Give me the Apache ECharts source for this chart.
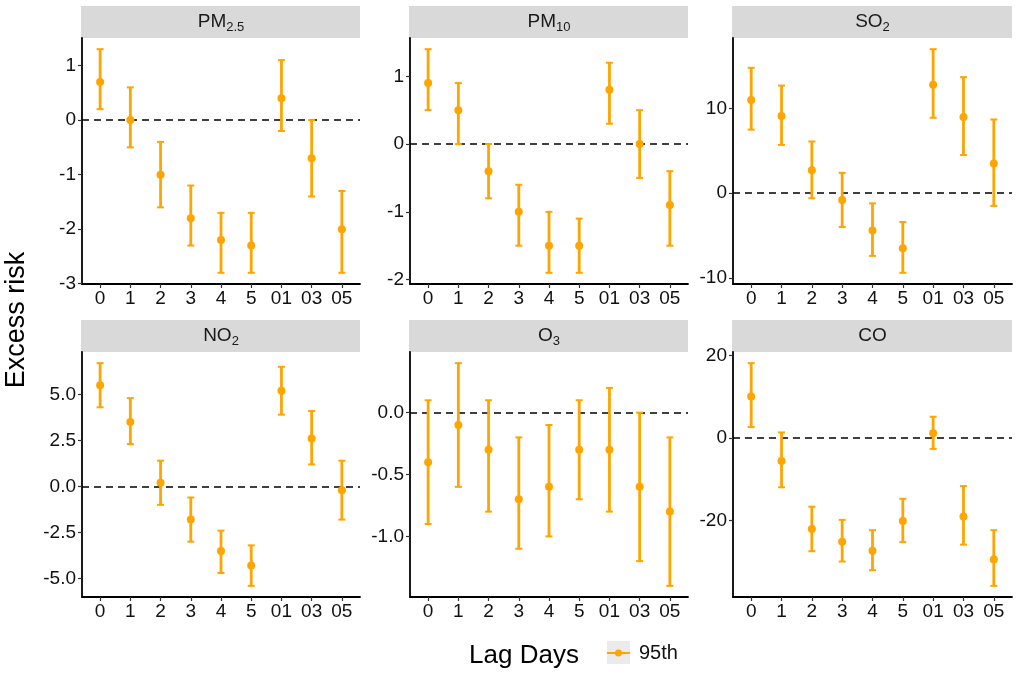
<!DOCTYPE html>
<html>
<head>
<meta charset="utf-8">
<script src="https://cdn.jsdelivr.net/npm/echarts@6/dist/echarts.min.js"></script>
<style>
  html, body { margin: 0; padding: 0; background: #fff; }
  #main { width: 1021px; height: 678px; }
</style>
</head>
<body>
<div id="main"></div>
<script>
const lagLabels = ['0', '1', '2', '3', '4', '5', '01', '03', '05']

const pm25Est = [0.7, 0, -1.0, -1.8, -2.2, -2.3, 0.4, -0.7, -2.0]
const pm25Lo = [0.2, -0.5, -1.6, -2.3, -2.8, -2.8, -0.2, -1.4, -2.8]
const pm25Hi = [1.3, 0.6, -0.4, -1.2, -1.7, -1.7, 1.1, 0, -1.3]

const pm10Est = [0.9, 0.5, -0.4, -1.0, -1.5, -1.5, 0.8, 0, -0.9]
const pm10Lo = [0.5, 0, -0.8, -1.5, -1.9, -1.9, 0.3, -0.5, -1.5]
const pm10Hi = [1.4, 0.9, 0, -0.6, -1.0, -1.1, 1.2, 0.5, -0.4]

const so2Est = [11.0, 9.1, 2.7, -0.8, -4.4, -6.5, 12.8, 9.0, 3.5]
const so2Lo = [7.5, 5.7, -0.6, -4.0, -7.4, -9.4, 8.9, 4.5, -1.5]
const so2Hi = [14.8, 12.7, 6.1, 2.4, -1.2, -3.4, 17.0, 13.7, 8.7]

const no2Est = [5.5, 3.5, 0.2, -1.8, -3.5, -4.3, 5.2, 2.6, -0.2]
const no2Lo = [4.3, 2.3, -1.0, -3.0, -4.7, -5.4, 3.9, 1.2, -1.8]
const no2Hi = [6.7, 4.8, 1.4, -0.6, -2.4, -3.2, 6.5, 4.1, 1.4]

const o3Est = [-0.4, -0.1, -0.3, -0.7, -0.6, -0.3, -0.3, -0.6, -0.8]
const o3Lo = [-0.9, -0.6, -0.8, -1.1, -1.0, -0.7, -0.8, -1.2, -1.4]
const o3Hi = [0.1, 0.4, 0.1, -0.2, -0.1, 0.1, 0.2, 0, -0.2]

const coEst = [10.0, -5.6, -22.1, -25.2, -27.4, -20.2, 1.1, -19.1, -29.5]
const coLo = [2.6, -12.0, -27.5, -30.0, -32.1, -25.3, -2.7, -25.9, -35.9]
const coHi = [18.1, 1.3, -16.7, -19.9, -22.4, -14.8, 5.1, -11.7, -22.4]

const pm25Ticks = [-3, -2, -1, 0, 1]
const pm10Ticks = [-2, -1, 0, 1]
const so2Ticks = [-10, 0, 10]
const no2Ticks = [-5, -2.5, 0, 2.5, 5]
const o3Ticks = [-1, -0.5, 0]
const coTicks = [-20, 0, 20]

const ORANGE = '#FFA500'
const FONT = 'Liberation Sans'

const panels = [
  { title: 'PM{sub|2.5}', est: pm25Est, lo: pm25Lo, hi: pm25Hi, ticks: pm25Ticks, digits: 0, left: 82, top: 38, width: 278, height: 246 },
  { title: 'PM{sub|10}', est: pm10Est, lo: pm10Lo, hi: pm10Hi, ticks: pm10Ticks, digits: 0, left: 410, top: 38, width: 278, height: 246 },
  { title: 'SO{sub|2}', est: so2Est, lo: so2Lo, hi: so2Hi, ticks: so2Ticks, digits: 0, left: 733, top: 38, width: 279, height: 246 },
  { title: 'NO{sub|2}', est: no2Est, lo: no2Lo, hi: no2Hi, ticks: no2Ticks, digits: 1, left: 82, top: 352, width: 278, height: 245 },
  { title: 'O{sub|3}', est: o3Est, lo: o3Lo, hi: o3Hi, ticks: o3Ticks, digits: 1, left: 410, top: 352, width: 278, height: 245 },
  { title: 'CO', est: coEst, lo: coLo, hi: coHi, ticks: coTicks, digits: 0, left: 733, top: 352, width: 279, height: 245 },
]

const lagIndex = lagLabels.map((_, i) => i)

// ggplot-like 5% expansion of the data range
function yExtent(p) {
  const lo = Math.min(...p.lo)
  const hi = Math.max(...p.hi)
  const pad = (hi - lo) * 0.05
  return [lo - pad, hi + pad]
}

function renderErrorBar(params, api) {
  const x = api.value(0)
  const top = api.coord([x, api.value(2)])
  const bottom = api.coord([x, api.value(1)])
  const hw = 3.5
  const capStyle = { stroke: ORANGE, lineWidth: 2 }
  return {
    type: 'group',
    children: [
      { type: 'line', shape: { x1: top[0], y1: top[1], x2: bottom[0], y2: bottom[1] }, style: { stroke: ORANGE, lineWidth: 2.8 } },
      { type: 'line', shape: { x1: top[0] - hw, y1: top[1], x2: top[0] + hw, y2: top[1] }, style: capStyle },
      { type: 'line', shape: { x1: bottom[0] - hw, y1: bottom[1], x2: bottom[0] + hw, y2: bottom[1] }, style: capStyle },
    ]
  }
}

const grid = []
const xAxis = []
const yAxis = []
const series = []
const graphic = []

panels.forEach((p, i) => {
  grid.push({ left: p.left, top: p.top, width: p.width, height: p.height })

  xAxis.push({
    type: 'value',
    gridIndex: i,
    min: -0.6,
    max: 8.6,
    splitLine: { show: false },
    axisLine: { onZero: false, lineStyle: { color: '#000', width: 1.8 } },
    axisTick: { customValues: lagIndex, length: 4, lineStyle: { color: '#333', width: 1.2 } },
    axisLabel: {
      customValues: lagIndex,
      formatter: v => lagLabels[v],
      color: '#111', fontFamily: FONT, fontSize: 19, margin: 5,
    },
  })

  const [yMin, yMax] = yExtent(p)
  yAxis.push({
    type: 'value',
    gridIndex: i,
    min: yMin,
    max: yMax,
    splitLine: { show: false },
    axisLine: { show: true, onZero: false, lineStyle: { color: '#000', width: 1.8 } },
    axisTick: { show: true, customValues: p.ticks, length: 4, lineStyle: { color: '#333', width: 1.2 } },
    axisLabel: {
      customValues: p.ticks,
      formatter: v => v.toFixed(p.digits),
      color: '#111', fontFamily: FONT, fontSize: 19, margin: 6,
    },
  })

  series.push({
    type: 'custom',
    name: '95th',
    xAxisIndex: i,
    yAxisIndex: i,
    renderItem: renderErrorBar,
    encode: { x: 0, y: [1, 2] },
    data: lagIndex.map(k => [k, p.lo[k], p.hi[k]]),
    z: 3,
    silent: true,
  })

  series.push({
    type: 'scatter',
    name: '95th',
    xAxisIndex: i,
    yAxisIndex: i,
    symbolSize: 8,
    itemStyle: { color: ORANGE, opacity: 1 },
    data: lagIndex.map(k => [k, p.est[k]]),
    z: 4,
    markLine: {
      silent: true,
      symbol: 'none',
      label: { show: false },
      lineStyle: { color: '#000', type: [7, 5], width: 1.6 },
      data: [{ yAxis: 0 }],
      z: 2,
    },
  })

  graphic.push({
    type: 'rect',
    shape: { x: p.left - 1, y: p.top - 32, width: p.width + 1, height: 32 },
    style: { fill: '#d9d9d9' },
    silent: true,
  })
  graphic.push({
    type: 'text',
    x: p.left + p.width / 2,
    y: p.top - 16,
    style: {
      text: p.title,
      fill: '#1a1a1a',
      font: `19px "${FONT}"`,
      align: 'center',
      verticalAlign: 'middle',
      rich: {
        sub: { fontSize: 13, fontFamily: FONT, fill: '#1a1a1a', padding: [10, 0, 0, 0] },
      },
    },
    silent: true,
  })
})

graphic.push({
  type: 'text',
  x: 17,
  y: 320,
  rotation: Math.PI / 2,
  style: { text: 'Excess risk', fill: '#000', font: `27px "${FONT}"`, align: 'center', verticalAlign: 'middle' },
  silent: true,
})
graphic.push({
  type: 'text',
  x: 524,
  y: 656,
  style: { text: 'Lag Days', fill: '#000', font: `26px "${FONT}"`, align: 'center', verticalAlign: 'middle' },
  silent: true,
})
graphic.push({
  type: 'rect',
  shape: { x: 607, y: 641, width: 23, height: 23 },
  style: { fill: '#ebebeb' },
  silent: true,
})

const chart = echarts.init(document.getElementById('main'))
chart.setOption({
  animation: false,
  backgroundColor: '#fff',
  grid,
  xAxis,
  yAxis,
  series,
  graphic,
  legend: {
    left: 607,
    top: 643,
    padding: 0,
    itemWidth: 23,
    itemHeight: 7,
    selectedMode: false,
    data: [{ name: '95th', icon: 'path://M0,2.5 L23,2.5 L23,4.5 L0,4.5 Z M11.5,0 A3.5,3.5 0 1 1 11.49,0 Z', itemStyle: { color: ORANGE } }],
    textStyle: { fontFamily: FONT, fontSize: 20, color: '#111', padding: [0, 0, 0, 4] },
  },
})
</script>
</body>
</html>
